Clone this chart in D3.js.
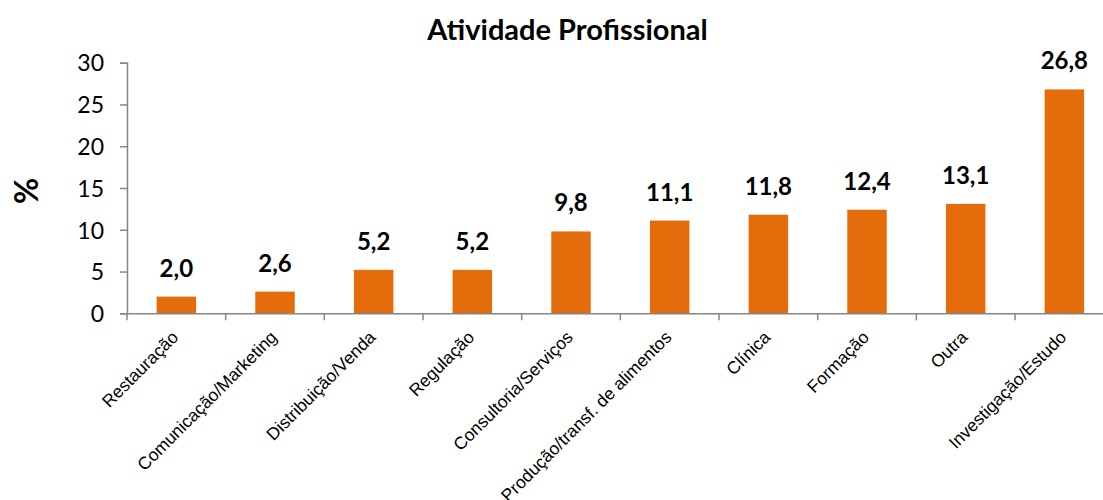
<!DOCTYPE html>
<html>
<head>
<meta charset="utf-8">
<script src="https://cdn.jsdelivr.net/npm/d3@7"></script>
<style>
body { margin: 0; background: #fff; }
svg { display: block; }
</style>
</head>
<body>
<svg id="chart" width="1103" height="500"></svg>
<script>
const categories = ["Restauração", "Comunicação/Marketing", "Distribuição/Venda", "Regulação", "Consultoria/Serviços", "Produção/transf. de alimentos", "Clínica", "Formação", "Outra", "Investigação/Estudo"];
const values = [2.0, 2.6, 5.2, 5.2, 9.8, 11.1, 11.8, 12.4, 13.1, 26.8];
const yTicks = [0, 5, 10, 15, 20, 25, 30];
const title = "Atividade Profissional";
const yLabel = "%";

(function () {
const svg = d3.select("#chart");
const mLeft = 127, mRight = 1113.7, mTop = 62.7, mBottom = 313.3;
const axisColor = "#868686";
const barColor = "#E46C0A";
const calibri = "Lato, 'Open Sans', sans-serif";

const x = d3.scaleBand().domain(categories).range([mLeft, mRight]).padding(0);
const y = d3.scaleLinear().domain([0, 30]).range([mBottom, mTop]);
const barW = x.bandwidth() * 0.4;

// title
svg.append("text").attr("x", 567.5).attr("y", 39.5).attr("text-anchor", "middle")
  .attr("font-family", calibri).attr("font-weight", "bold").attr("font-size", 29)
  .attr("fill", "#000").text(title);

// y label
svg.append("text").attr("transform", "translate(38,191) rotate(-90)").attr("text-anchor", "middle")
  .attr("font-family", calibri).attr("font-weight", "bold").attr("font-size", 32)
  .attr("fill", "#000").text(yLabel);

// bars
svg.append("g").selectAll("rect").data(values).join("rect")
  .attr("x", (d, i) => x(categories[i]) + (x.bandwidth() - barW) / 2)
  .attr("y", d => y(d))
  .attr("width", barW)
  .attr("height", d => y(0) - y(d))
  .attr("fill", barColor);

// value labels
svg.append("g").selectAll("text").data(values).join("text")
  .attr("x", (d, i) => x(categories[i]) + x.bandwidth() / 2)
  .attr("y", d => y(d) - 20)
  .attr("text-anchor", "middle")
  .attr("font-family", calibri).attr("font-weight", "bold").attr("font-size", 24)
  .attr("fill", "#000")
  .text(d => d.toFixed(1).replace(".", ","));

// y axis
const yAxis = svg.append("g").attr("transform", `translate(${mLeft},0)`)
  .call(d3.axisLeft(y).tickValues(yTicks).tickSize(7).tickPadding(16));
yAxis.select(".domain").attr("stroke", axisColor).attr("stroke-width", 1.5);
yAxis.selectAll(".tick line").attr("stroke", axisColor).attr("stroke-width", 1.5);
yAxis.selectAll(".tick text").attr("font-family", calibri).attr("font-size", 23).attr("fill", "#000")
  .attr("dy", "0.36em");

// x axis
const xAxis = svg.append("g").attr("transform", `translate(0,${mBottom})`)
  .call(d3.axisBottom(x).tickSize(0).tickPadding(0));
xAxis.select(".domain").attr("stroke", axisColor).attr("stroke-width", 1.5);
xAxis.selectAll(".tick text")
  .attr("font-family", "'Liberation Sans', Arial, sans-serif").attr("font-size", 17.5).attr("fill", "#000")
  .attr("text-anchor", "end")
  .attr("dy", 0)
  .attr("transform", "translate(3,25) rotate(-45)");

// boundary tick marks
const bounds = categories.map(c => x(c)).concat([x(categories[categories.length - 1]) + x.step()]);
xAxis.append("g").selectAll("line").data(bounds).join("line")
  .attr("x1", d => d).attr("x2", d => d).attr("y1", 0).attr("y2", 7)
  .attr("stroke", axisColor).attr("stroke-width", 1.5);
})();
</script>
</body>
</html>
